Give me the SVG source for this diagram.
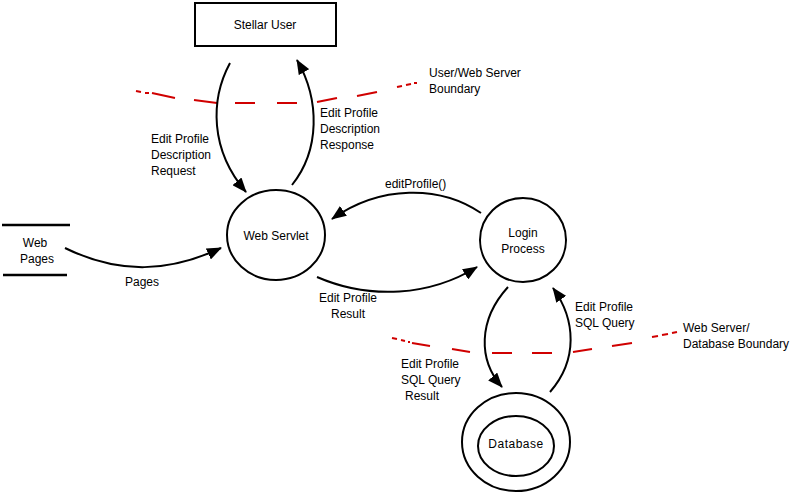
<svg xmlns="http://www.w3.org/2000/svg" width="794" height="496" viewBox="0 0 794 496">
<defs>
<marker id="ah" markerUnits="userSpaceOnUse" markerWidth="16" markerHeight="12" refX="14" refY="6" orient="auto">
<path d="M0,0 L15,6 L0,12 z" fill="#000"/>
</marker>
<style>
text{font-family:"Liberation Sans",Arial,sans-serif;font-size:12px;fill:#000}
.c{text-anchor:middle}
.n{fill:#fff;stroke:#000;stroke-width:2}
.e{fill:none;stroke:#000;stroke-width:2;marker-end:url(#ah)}
.b{fill:none;stroke:#d00000;stroke-width:2}
</style>
</defs>
<rect width="794" height="496" fill="#fff"/>
<g id="boundaries">
<path class="b" d="M136,91 L141,92 M145,93 L149,93 M152,93 L175,98 M194,100 L217,103 M235,103 L255,103 M277,103 L297,103 M317,102 L337,98 M357,96 L377,92 M397,87 L402,86 M406,85 L411,84 M414,83 L417,83"/>
<path class="b" d="M392,338 L397,339 M401,340 L405,341 M408,342 L410,342 M412,343 L430,346 M452,349 L470,352 M492,353 L512,353 M532,353 L552,353 M573,352 L592,349 M612,346 L632,343 M652,337 L658,336 M662,335 L668,334 M672,333 L677,332"/>
</g>
<g id="stellar-user">
<rect class="n" x="195" y="3" width="141" height="43"/>
<text class="c" x="265" y="29">Stellar User</text>
</g>
<g id="web-servlet">
<ellipse class="n" cx="276" cy="235" rx="49" ry="45"/>
<text class="c" x="276" y="240">Web Servlet</text>
</g>
<g id="login-process">
<ellipse class="n" cx="523" cy="240" rx="43" ry="42"/>
<text class="c" x="523" y="237">Login</text>
<text class="c" x="523" y="253">Process</text>
</g>
<g id="database">
<ellipse class="n" cx="516" cy="442" rx="54" ry="49"/>
<ellipse class="n" cx="516" cy="446" rx="38" ry="30"/>
<text class="c" x="516" y="448" style="letter-spacing:0.5px">Database</text>
</g>
<g id="web-pages">
<line x1="2" y1="225" x2="70" y2="225" stroke="#000" stroke-width="2.5"/>
<line x1="3" y1="275" x2="67" y2="275" stroke="#000" stroke-width="2.5"/>
<text class="c" x="35" y="247">Web</text>
<text class="c" x="37" y="263">Pages</text>
</g>
<g id="connectors">
<path class="e" d="M230,63 C210,100 210,150 246,192"/>
<path class="e" d="M292,185 C320,150 320,100 297,60"/>
<path class="e" d="M65,248 C120,275 170,272 221,248"/>
<path class="e" d="M481,213 C440,185 380,185 332,219"/>
<path class="e" d="M317,277 C370,300 430,296 477,267"/>
<path class="e" d="M508,287 C478,320 478,360 502,387"/>
<path class="e" d="M550,392 C578,360 576,320 553,288"/>
</g>
<g id="labels">
<text x="151" y="143">Edit Profile</text>
<text x="151" y="159">Description</text>
<text x="151" y="175">Request</text>
<text x="320" y="117">Edit Profile</text>
<text x="320" y="133">Description</text>
<text x="320" y="149">Response</text>
<text class="c" x="142" y="286">Pages</text>
<text x="385" y="188">editProfile()</text>
<text class="c" x="348" y="302">Edit Profile</text>
<text class="c" x="348" y="318">Result</text>
<text x="575" y="311">Edit Profile</text>
<text x="575" y="327">SQL Query</text>
<text x="401" y="368">Edit Profile</text>
<text x="401" y="384">SQL Query</text>
<text x="405" y="400">Result</text>
<text x="429" y="77">User/Web Server</text>
<text x="429" y="93">Boundary</text>
<text x="683" y="332">Web Server/</text>
<text x="683" y="348">Database Boundary</text>
</g>
</svg>
